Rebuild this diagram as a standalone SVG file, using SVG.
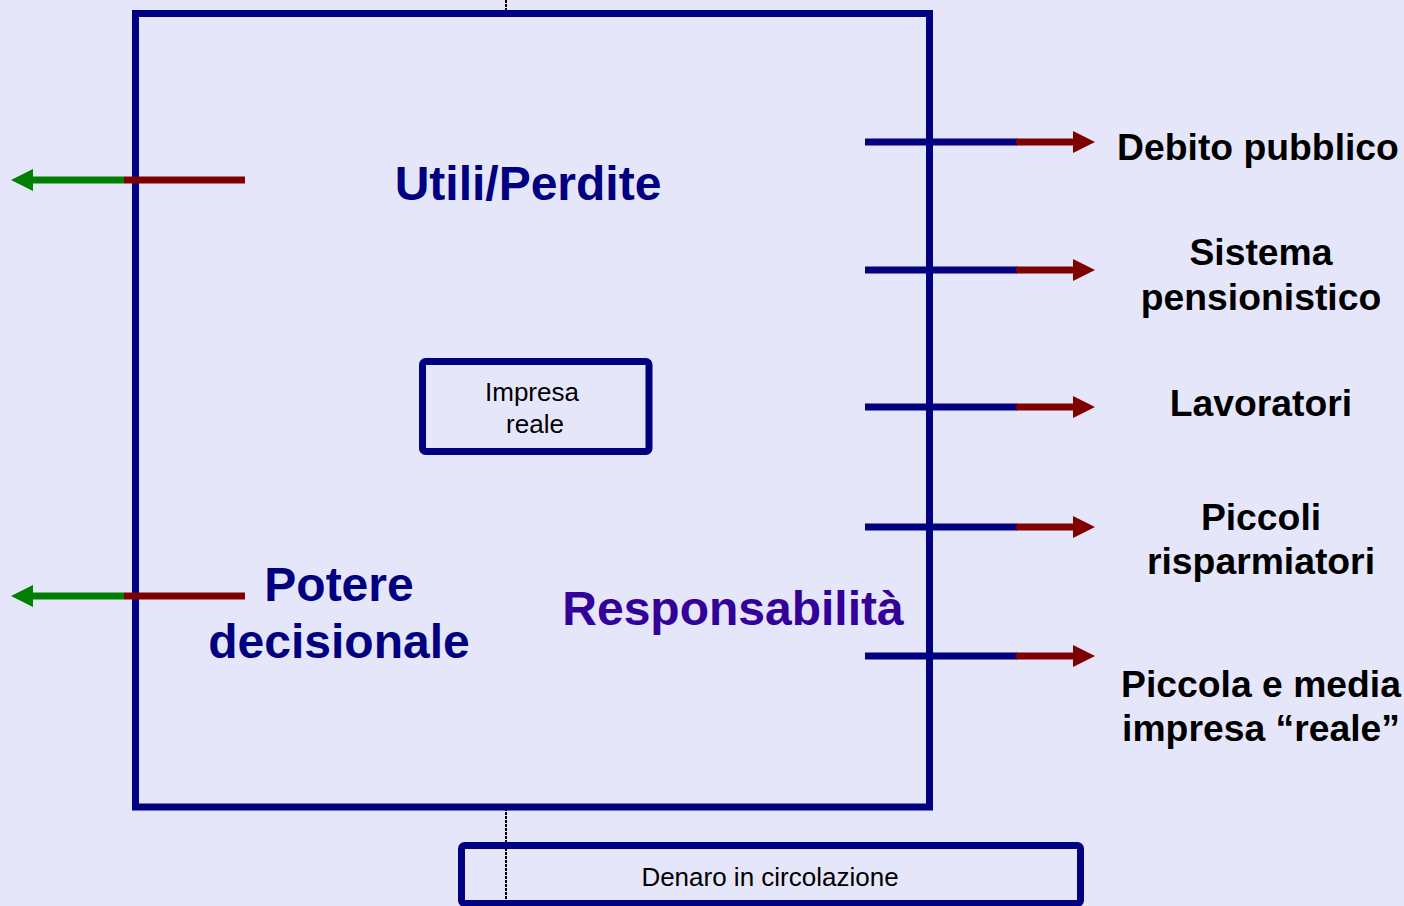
<svg xmlns="http://www.w3.org/2000/svg" width="1404" height="906" viewBox="0 0 1404 906">
<defs>
<style>
.box{fill:none;stroke:#000080;stroke-width:7;stroke-linejoin:miter}
.ln{stroke-width:7;fill:none}
.navy{stroke:#000080}
.red{stroke:#800000}
.green{stroke:#008000}
.big{font-family:"Liberation Sans",Arial,sans-serif;font-weight:bold;font-size:48px;fill:#000080;text-anchor:middle}
.lbl{font-family:"Liberation Sans",Arial,sans-serif;font-weight:bold;font-size:37.3px;fill:#000;text-anchor:middle}
.sm{font-family:"Liberation Sans",Arial,sans-serif;font-size:26px;fill:#000;text-anchor:middle}
.dash{stroke:#000;stroke-width:2;stroke-dasharray:3 1;fill:none}
</style>
<marker id="hr" viewBox="0 0 22 22" refX="0" refY="11" markerWidth="22" markerHeight="22" markerUnits="userSpaceOnUse" orient="auto"><path d="M0,0 L22,11 L0,22 Z" fill="#800000"/></marker>
<marker id="hg" viewBox="0 0 22 22" refX="0" refY="11" markerWidth="22" markerHeight="22" markerUnits="userSpaceOnUse" orient="auto"><path d="M0,0 L22,11 L0,22 Z" fill="#008000"/></marker>
</defs>
<rect width="1404" height="906" fill="#E6E6FA"/>
<g id="connectors">
<line class="dash" x1="506" y1="0" x2="506" y2="12"/>
<line class="dash" x1="506" y1="808" x2="506" y2="906"/>
</g>
<g id="impresa-finanziaria">
<rect class="box" x="135.5" y="13.5" width="794" height="793.5"/>
</g>
<g id="arrows-left">
<line class="ln red" x1="245" y1="180" x2="124" y2="180"/>
<line class="ln green" x1="124" y1="180" x2="33" y2="180" marker-end="url(#hg)"/>
<line class="ln red" x1="245" y1="596" x2="124" y2="596"/>
<line class="ln green" x1="124" y1="596" x2="33" y2="596" marker-end="url(#hg)"/>
</g>
<g id="arrows-right">
<line class="ln navy" x1="865" y1="142" x2="1017" y2="142"/>
<line class="ln red" x1="1016" y1="142" x2="1073" y2="142" marker-end="url(#hr)"/>
<line class="ln navy" x1="865" y1="270" x2="1017" y2="270"/>
<line class="ln red" x1="1016" y1="270" x2="1073" y2="270" marker-end="url(#hr)"/>
<line class="ln navy" x1="865" y1="407" x2="1017" y2="407"/>
<line class="ln red" x1="1016" y1="407" x2="1073" y2="407" marker-end="url(#hr)"/>
<line class="ln navy" x1="865" y1="527" x2="1017" y2="527"/>
<line class="ln red" x1="1016" y1="527" x2="1073" y2="527" marker-end="url(#hr)"/>
<line class="ln navy" x1="865" y1="656" x2="1017" y2="656"/>
<line class="ln red" x1="1016" y1="656" x2="1073" y2="656" marker-end="url(#hr)"/>
</g>
<g id="impresa-reale">
<rect class="box" x="422.5" y="361.5" width="226.5" height="90" rx="3" stroke-width="6.5"/>
<text class="sm" x="532" y="401">Impresa</text>
<text class="sm" x="535" y="433">reale</text>
</g>
<g id="denaro">
<rect class="box" x="461.5" y="845.5" width="619" height="58" rx="3" stroke-width="6.5"/>
<text class="sm" x="770" y="886">Denaro in circolazione</text>
</g>
<g id="labels">
<text class="big" x="528" y="200">Utili/Perdite</text>
<text class="big" x="339" y="601">Potere</text>
<text class="big" x="339" y="658">decisionale</text>
<text class="big" x="733" y="625" style="fill:#330099">Responsabilità</text>
</g>
<g id="targets">
<text class="lbl" x="1258" y="160">Debito pubblico</text>
<text class="lbl" x="1261" y="265">Sistema</text>
<text class="lbl" x="1261" y="310">pensionistico</text>
<text class="lbl" x="1261" y="416">Lavoratori</text>
<text class="lbl" x="1261" y="530">Piccoli</text>
<text class="lbl" x="1261" y="574">risparmiatori</text>
<text class="lbl" x="1261" y="697">Piccola e media</text>
<text class="lbl" x="1261" y="741">impresa “reale”</text>
</g>
</svg>
